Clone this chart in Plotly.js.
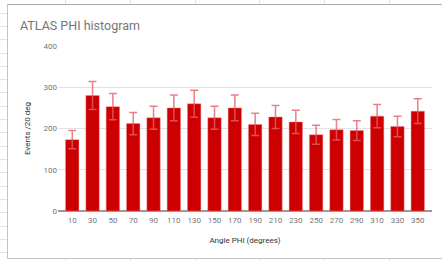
<!DOCTYPE html>
<html>
<head>
<meta charset="utf-8">
<script src="https://cdn.plot.ly/plotly-3.0.1.min.js"></script>
<style>
  html, body { margin: 0; padding: 0; background: #ffffff; }
  #wrap { position: relative; width: 442px; height: 261px; overflow: hidden; background: #ffffff; }
  .hl { position: absolute; left: 0; width: 7px; height: 1px; background: #e3e3e3; }
  .vl { position: absolute; width: 1px; background: #e3e3e3; }
  #card { position: absolute; left: 7px; top: 4px; width: 440px; height: 253px;
          background: #ffffff; border-left: 1px solid #c4c4c4; border-top: 1px solid #a8a8a8;
          border-bottom: 1px solid #c4c4c4; }
  #chart { position: absolute; left: 0; top: 0; width: 442px; height: 261px; }
</style>
</head>
<body>
<div id="wrap">
  <div id="deco"></div>
  <div id="card"></div>
  <div id="chart"></div>
</div>
<script>
// Data
const angles = ['10','30','50','70','90','110','130','150','170','190','210','230','250','270','290','310','330','350'];
const events = [173, 280, 253, 212, 226, 250, 260, 226, 250, 210, 228, 216, 185, 197, 195, 230, 205, 242];
const errors = [22, 34, 32, 27, 28, 31, 33, 28, 31, 27, 28, 28, 23, 25, 24, 28, 25, 30];

// Spreadsheet background decoration
(function () {
  const deco = document.getElementById('deco');
  for (let y = 12.7; y < 261; y += 13.3) {
    const d = document.createElement('div');
    d.className = 'hl'; d.style.top = Math.round(y) + 'px';
    deco.appendChild(d);
  }
  [65, 130, 195, 259, 324, 389].forEach(function (x) {
    const a = document.createElement('div');
    a.className = 'vl'; a.style.left = x + 'px'; a.style.top = '0px'; a.style.height = '4px';
    deco.appendChild(a);
    const b = document.createElement('div');
    b.className = 'vl'; b.style.left = x + 'px'; b.style.top = '258px'; b.style.height = '3px';
    deco.appendChild(b);
  });
})();

const trace = {
  type: 'bar',
  x: angles,
  y: events,
  width: 0.66,
  marker: { color: '#cc0000', line: { color: 'rgba(240,140,140,0.7)', width: 0.6 } },
  error_y: { type: 'data', array: errors, visible: true, color: 'rgba(228,95,105,0.8)', thickness: 1.5, width: 4 },
  hoverinfo: 'none'
};

const layout = {
  width: 442,
  height: 261,
  margin: { l: 58, r: 10, t: 46, b: 49.5 },
  paper_bgcolor: 'rgba(0,0,0,0)',
  plot_bgcolor: 'rgba(0,0,0,0)',
  showlegend: false,
  font: { family: 'Roboto, Arial, sans-serif', size: 8, color: '#757575' },
  title: {
    text: 'ATLAS PHI histogram',
    font: { family: 'Roboto, Arial, sans-serif', size: 12.5, color: '#757575' },
    xref: 'container', x: 20 / 442, xanchor: 'left',
    yref: 'container', y: 1 - 25.5 / 261, yanchor: 'middle'
  },
  xaxis: {
    type: 'category',
    range: [-0.7, 17.7],
    showgrid: false,
    zeroline: false,
    showline: false,
    ticks: '',
    ticklabelstandoff: 3,
    tickfont: { size: 8, color: '#757575' },
    title: { text: 'Angle PHI (degrees)', standoff: 13, font: { size: 8, color: '#333333' } },
    automargin: true,
    fixedrange: true
  },
  yaxis: {
    range: [0, 400],
    tickvals: [0, 100, 200, 300, 400],
    showgrid: true,
    gridcolor: '#e2e2e2',
    gridwidth: 1.2,
    zeroline: true,
    zerolinecolor: '#9a9a9a',
    zerolinewidth: 1.8,
    showline: false,
    ticks: '',
    tickfont: { size: 8, color: '#757575' },
    title: { text: 'Events /20 deg', standoff: 11, font: { size: 8, color: '#333333' } },
    automargin: true,
    fixedrange: true
  },
  bargap: 0.34
};

Plotly.newPlot('chart', [trace], layout, { displayModeBar: false, staticPlot: true });
</script>
</body>
</html>
